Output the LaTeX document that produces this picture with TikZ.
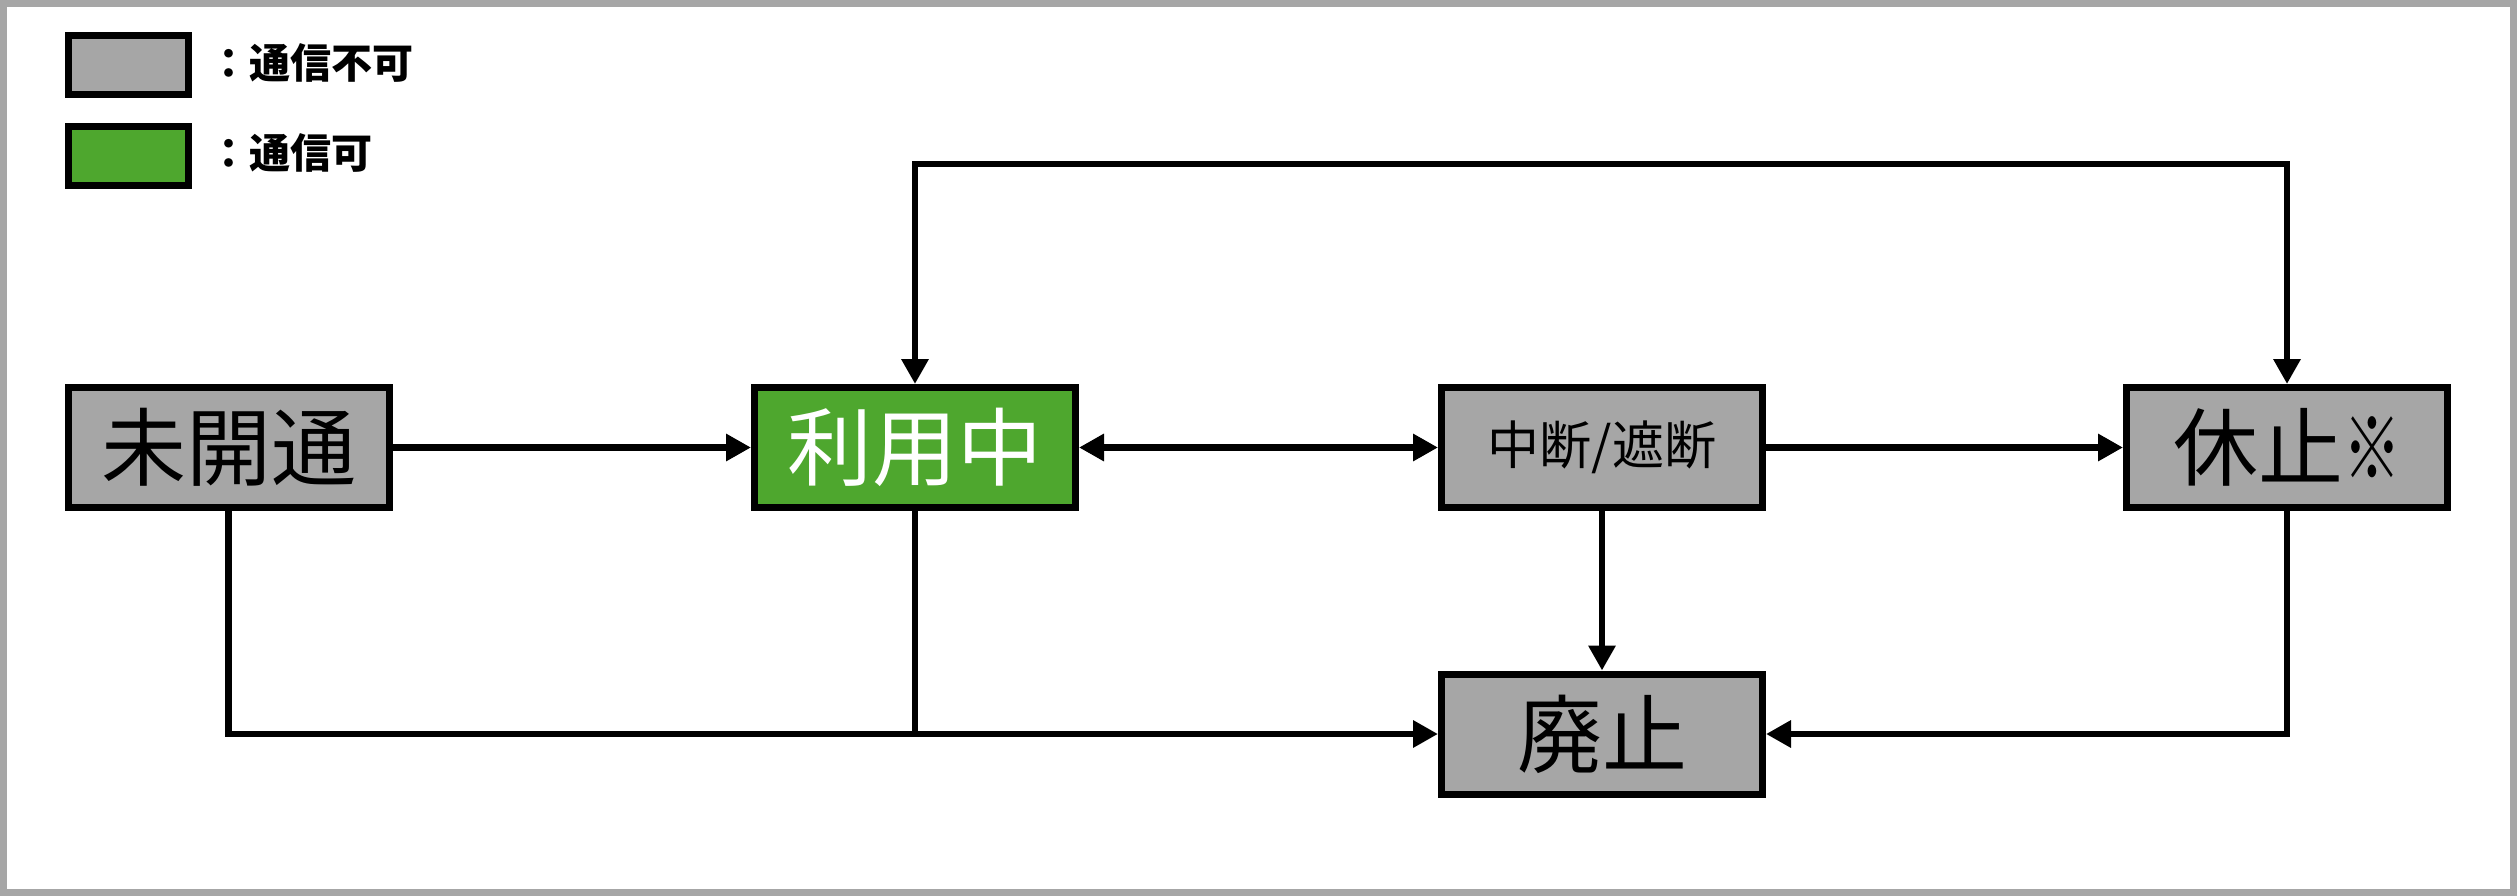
\documentclass[tikz,border=0pt]{standalone}
\usepackage{fontspec}
\newfontfamily\cjk{Noto Sans CJK JP}
\usetikzlibrary{arrows.meta}
\definecolor{boxgray}{RGB}{166,166,166}
\definecolor{boxgreen}{RGB}{78,167,46}
\tikzset{
  state/.style={draw=black, line width=7pt, minimum width=321pt, minimum height=120pt, inner sep=0pt, font=\cjk\fontsize{85}{90}\selectfont, fill=boxgray},
  active/.style={state, fill=boxgreen, text=white},
  legendbox/.style={draw=black, line width=7pt, minimum width=120pt, minimum height=59pt, inner sep=0pt},
  legendtext/.style={anchor=west, inner sep=0pt, font=\cjk\bfseries\fontsize{41}{45}\selectfont},
  conn/.style={line width=6.5pt, -{Triangle[length=25pt,width=26pt]}},
  plain/.style={line width=6.5pt},
  both/.style={line width=6.5pt, {Triangle[length=25pt,width=26pt]}-{Triangle[length=25pt,width=26pt]}}
}
\begin{document}
\begin{tikzpicture}[x=1pt,y=-1pt]
\useasboundingbox (0,0) rectangle (2517,896);
\draw[boxgray, line width=7pt] (3.5,3.5) rectangle (2513.5,892.5);
% legend
\node[legendbox, fill=boxgray] (lg1) at (128.5,65) {};
\node[legendbox, fill=boxgreen] (lg2) at (128.5,156) {};
\node[legendtext] (lt1) at (208,63) {：通信不可};
\node[legendtext] (lt2) at (208,153) {：通信可};
% states
\node[state] (mi) at (228.5,447.5) {未開通};
\node[active] (ri) at (915,447.5) {利用中};
\node[state, font=\cjk\fontsize{52}{56}\selectfont] (chu) at (1602,447.5) {中断/遮断};
\node[state] (kyu) at (2287,447.5) {休止\scalebox{0.68}[1]{※}};
\node[state] (hai) at (1602,734) {廃止};
% connectors
\coordinate (tl) at (915,164);
\coordinate (tr) at (2287,164);
\draw[conn] (mi) -- (ri);
\draw[both] (ri) -- (chu);
\draw[conn] (chu) -- (kyu);
\draw[conn] (chu) -- (hai);
\draw[both] (ri.north) -- (tl) -- (tr) -- (kyu.north);
\draw[conn] (mi.south) |- (hai.west);
\draw[plain] (ri.south) -- (ri.south |- hai.west);
\draw[conn] (kyu.south) |- (hai.east);
\end{tikzpicture}
\end{document}
